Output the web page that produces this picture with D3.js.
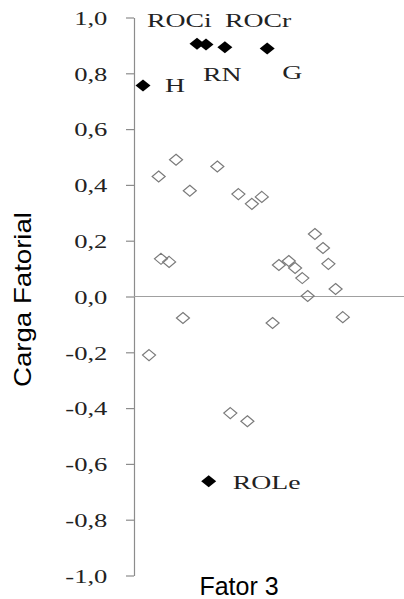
<!DOCTYPE html>
<html lang="pt">
<head>
    <meta charset="UTF-8">
    <title>Carga Fatorial - Fator 3</title>
    <script src="https://cdn.jsdelivr.net/npm/d3@7.9.0/dist/d3.min.js"></script>
    <style>
        body {
            margin: 0;
            background: #fff;
            overflow: hidden;
        }
        svg { display: block; }
        .axis path, .axis line { stroke: #8c8c8c; stroke-width: 1.2px; }
        .axis text {
            font-family: "Liberation Serif", "Times New Roman", serif;
            font-size: 19px;
            fill: #222;
        }
        .zero { stroke: #a0a0a0; stroke-width: 1.2px; }
        .open { fill: none; stroke: #7a7a7a; stroke-width: 1.2px; }
        .filled { fill: #000; }
        .plabel {
            font-family: "Liberation Serif", "Times New Roman", serif;
            font-size: 18.5px;
            fill: #222;
        }
        .title {
            font-family: "Liberation Sans", Arial, sans-serif;
            fill: #000;
        }
    </style>
</head>
<body>
<svg id="chart" width="404" height="599"></svg>
<script>
    // --- data: order of the variable along Fator 3 and its loading ---
    const openPos   = [1.67, 2.74, 3.0, 3.9, 4.67, 5.44, 6.2, 9.26, 10.7, 11.6, 12.6, 13.1, 14.2,
                       15.4, 16.1, 17.2, 17.9, 18.7, 19.3, 20.1, 21.0, 21.6, 22.4, 23.2];
    const openLoad  = [-0.21, 0.43, 0.135, 0.124, 0.49, -0.077, 0.379, 0.466, -0.418, 0.367, -0.447, 0.332, 0.357,
                       -0.095, 0.113, 0.127, 0.102, 0.066, 0.002, 0.224, 0.174, 0.117, 0.027, -0.074];

    const namedVars = ["H", "ROCi", "ROCr", "RN", "G", "ROLe"];
    const namedPos  = [1.0, 7.0, 8.0, 10.1, 14.8, 8.3];
    const namedLoad = [0.756, 0.906, 0.903, 0.893, 0.889, -0.662];

    const yTicks = [1.0, 0.8, 0.6, 0.4, 0.2, 0.0, -0.2, -0.4, -0.6, -0.8, -1.0];

    // pixel offset of each label from its point (styling, not data)
    const labelOffset = {
        "H": [22, 6], "ROCi": [-50, -17], "ROCr": [19, -18], "RN": [-22, 34], "G": [15, 31], "ROLe": [24, 8]
    };

    const svg = d3.select("#chart");

    const x = d3.scaleLinear().domain([0, 30]).range([134, 404]);
    const y = d3.scaleLinear().domain([-1, 1]).range([575.5, 17.5]);

    // y axis
    const yAxis = d3.axisLeft(y)
        .tickValues(yTicks)
        .tickSize(8)
        .tickSizeOuter(0)
        .tickPadding(0)
        .tickFormat(d => d3.format(".1f")(d).replace(".", ",").replace("−", "-"));

    const ax = svg.append("g")
        .attr("class", "axis")
        .attr("transform", `translate(${x(0)},0)`)
        .call(yAxis);

    ax.selectAll("text")
        .attr("x", -19)
        .attr("dy", "0.36em")
        .attr("transform", "scale(1.4,1)");

    // zero line
    svg.append("line")
        .attr("class", "zero")
        .attr("x1", x(0)).attr("x2", x(30))
        .attr("y1", y(0)).attr("y2", y(0));

    const diamond = (w, h) => `M0,${-h}L${w},0L0,${h}L${-w},0Z`;

    // open diamonds
    svg.append("g").selectAll("path")
        .data(openPos.map((p, i) => ({p, v: openLoad[i]})))
        .join("path")
        .attr("class", "open")
        .attr("d", diamond(6.5, 5.5))
        .attr("transform", d => `translate(${x(d.p)},${y(d.v)})`);

    // filled diamonds
    const named = namedVars.map((n, i) => ({n, p: namedPos[i], v: namedLoad[i]}));
    svg.append("g").selectAll("path")
        .data(named)
        .join("path")
        .attr("class", "filled")
        .attr("d", diamond(7.5, 6))
        .attr("transform", d => `translate(${x(d.p)},${y(d.v)})`);

    // point labels
    svg.append("g").selectAll("text")
        .data(named)
        .join("text")
        .attr("class", "plabel")
        .attr("transform", d => {
            const o = labelOffset[d.n];
            return `translate(${x(d.p) + o[0]},${y(d.v) + o[1]}) scale(1.5,1)`;
        })
        .text(d => d.n);

    // axis titles
    svg.append("text")
        .attr("class", "title")
        .attr("transform", `translate(31,${y(0) + 3}) rotate(-90)`)
        .attr("text-anchor", "middle")
        .style("font-size", "24px")
        .attr("textLength", 175)
        .attr("lengthAdjust", "spacingAndGlyphs")
        .text("Carga Fatorial");

    svg.append("text")
        .attr("class", "title")
        .attr("x", 239)
        .attr("y", 595)
        .attr("text-anchor", "middle")
        .style("font-size", "25px")
        .text("Fator 3");
</script>
</body>
</html>
